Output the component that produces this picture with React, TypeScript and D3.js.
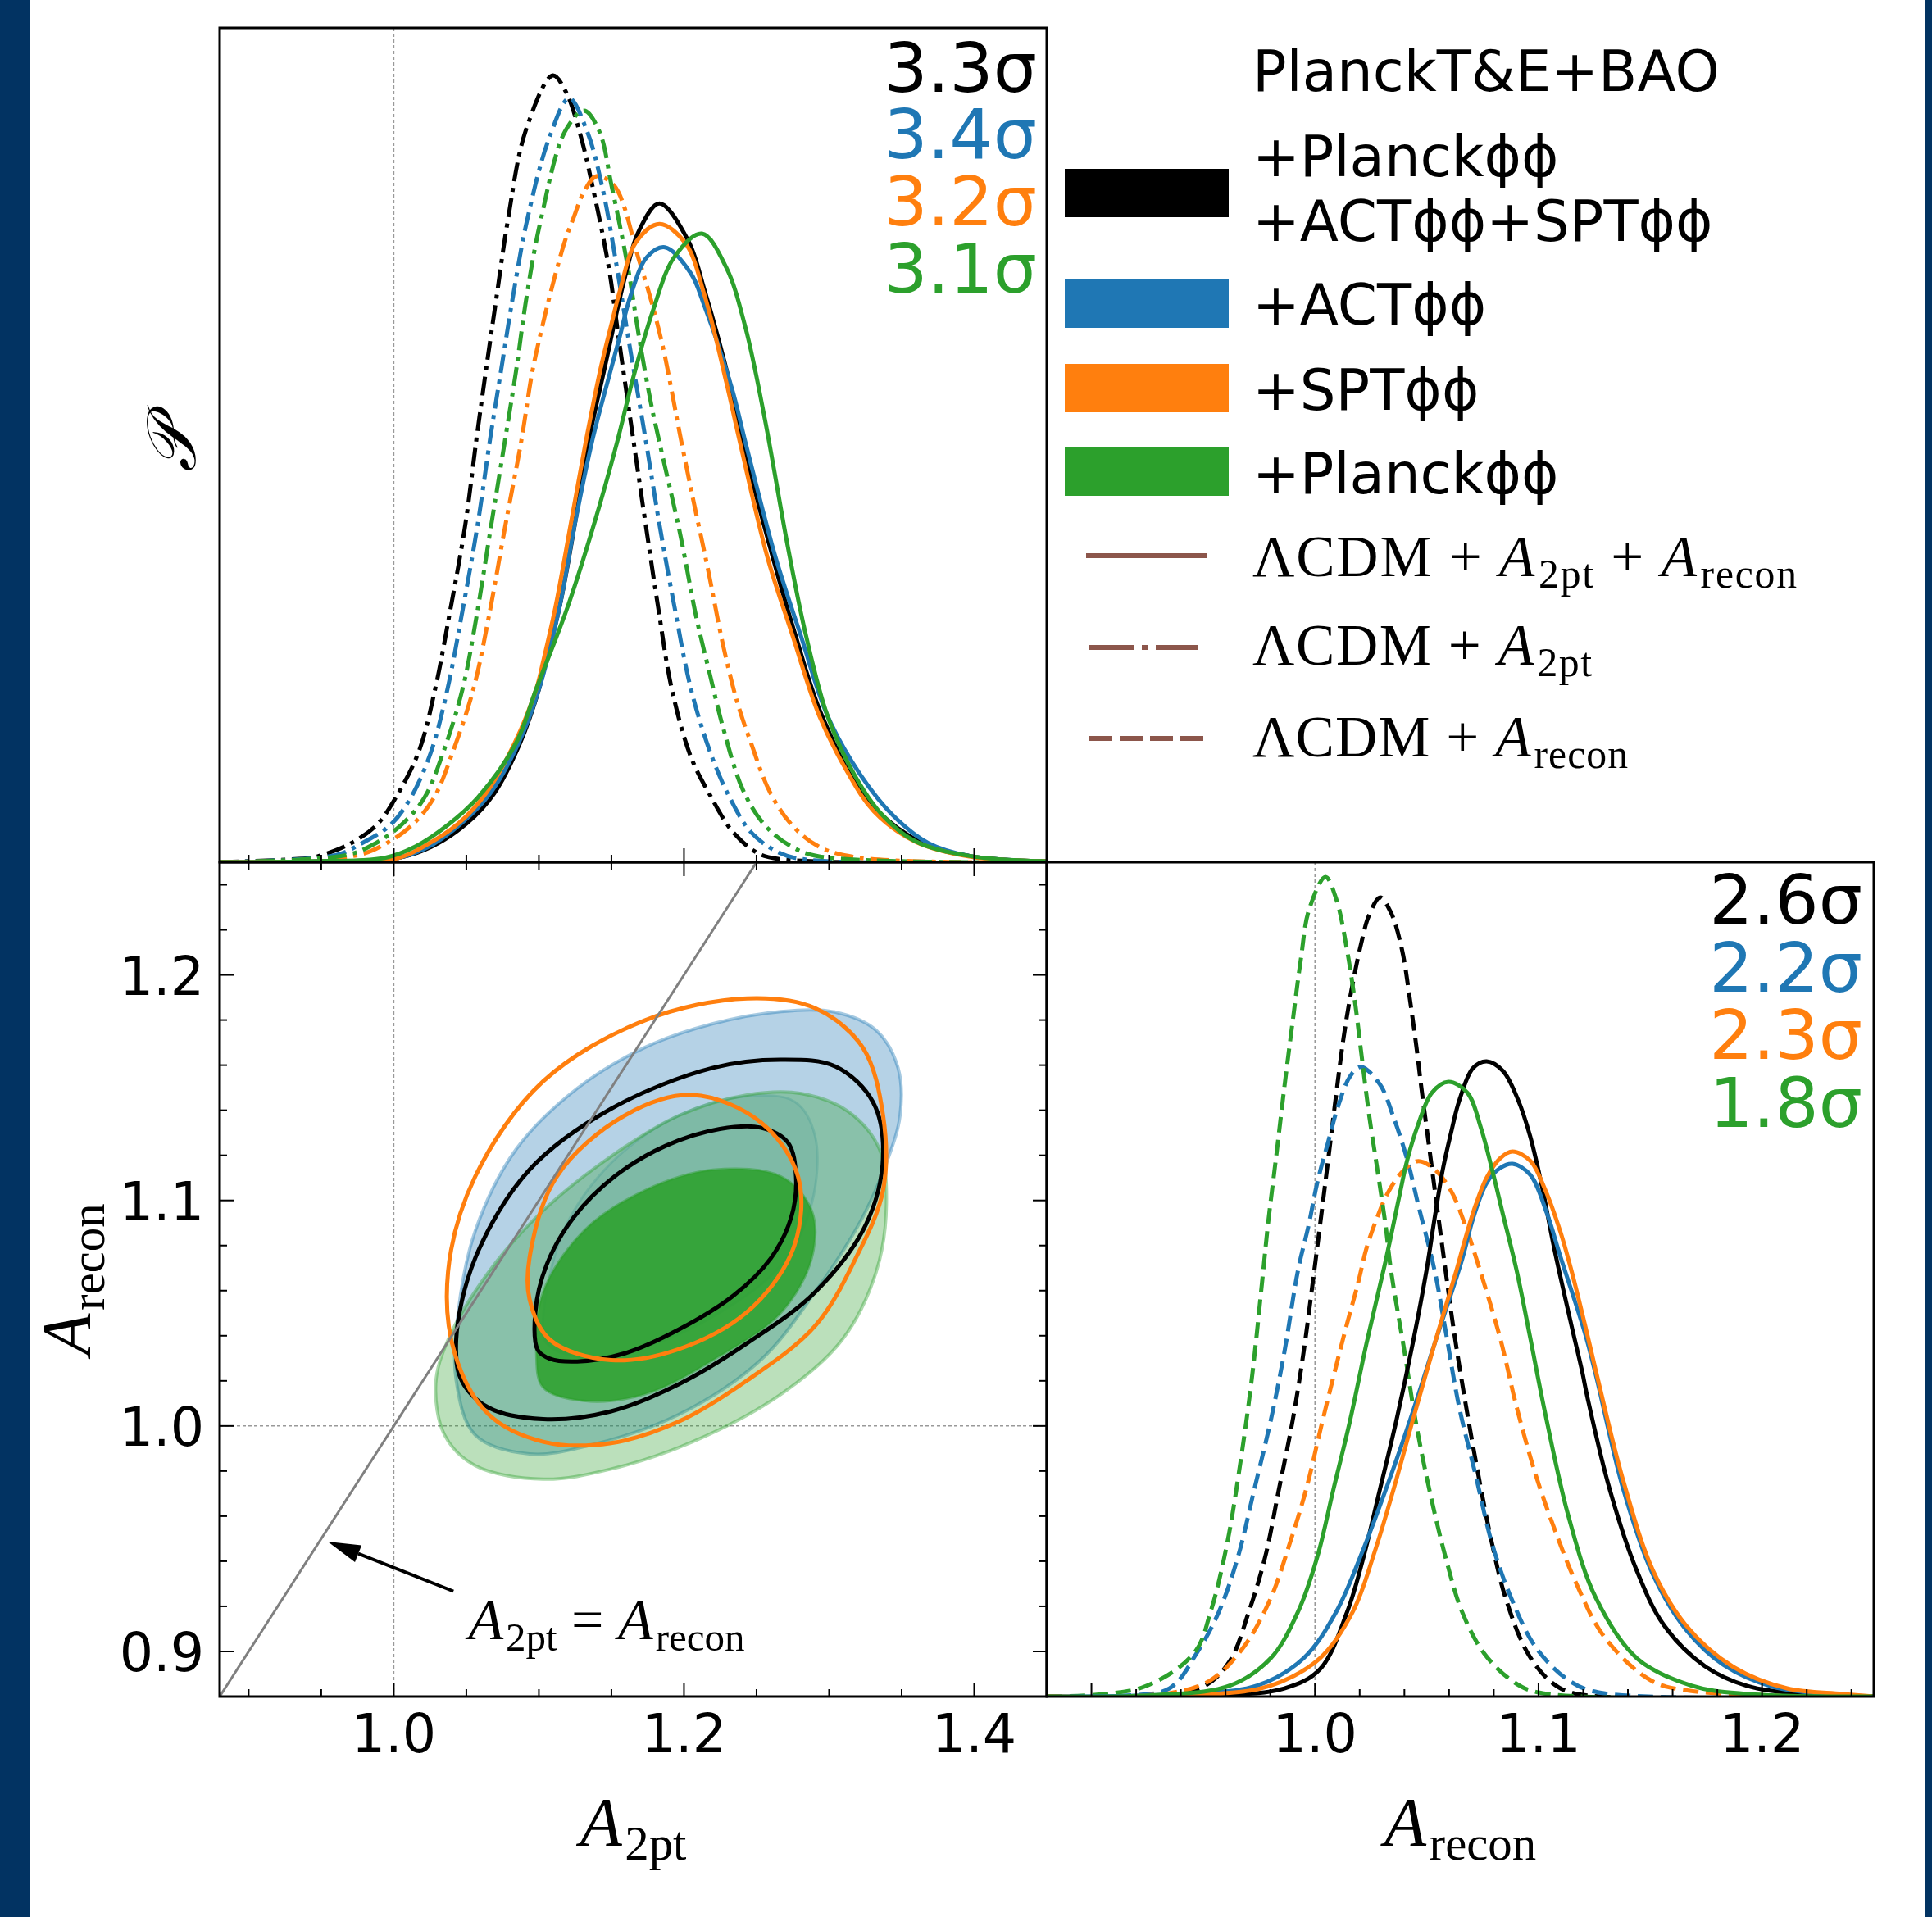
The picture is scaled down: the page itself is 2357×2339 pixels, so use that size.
import React from 'react';
import * as d3 from 'd3';

type Pt = [number, number];

// ---------------- data ----------------
const seriesColors = ['#000000', '#1f77b4', '#ff7f0e', '#2ca02c'];
const sigmaA2pt = ['3.3σ', '3.4σ', '3.2σ', '3.1σ'];
const sigmaArecon = ['2.6σ', '2.2σ', '2.3σ', '1.8σ'];
const legendTitle = 'PlanckT&E+BAO';
const legendLabels = [['+Planckϕϕ', '+ACTϕϕ+SPTϕϕ'], ['+ACTϕϕ'], ['+SPTϕϕ'], ['+Planckϕϕ']];

const a2ptMajor = [1.0, 1.2, 1.4];
const a2ptMajorLabels = ['1.0', '1.2', '1.4'];
const areconMajor = [0.9, 1.0, 1.1, 1.2];
const areconYLabels = ['0.9', '1.0', '1.1', '1.2'];
const areconXLabels = ['', '1.0', '1.1', '1.2'];

// P(A_2pt), LCDM + A2pt + Arecon (solid)
const a2ptBoth_black: Pt[] = [[0.88,0],[0.95,0.001],[1.0032,0.0052],[1.0258,0.0184],[1.0503,0.0465],[1.0691,0.0823],[1.087,0.1427],[1.1002,0.2083],[1.1049,0.241],[1.1143,0.3065],[1.1247,0.4047],[1.1341,0.5029],[1.1452,0.5915],[1.1595,0.7025],[1.1689,0.7566],[1.1831,0.7895],[1.2028,0.7453],[1.2141,0.686],[1.2329,0.565],[1.2405,0.5029],[1.2612,0.3654],[1.2765,0.2738],[1.2951,0.1755],[1.3252,0.0773],[1.362,0.0249],[1.3966,0.0075],[1.45,0.001]];
const a2ptBoth_blue: Pt[] = [[0.88,0],[0.95,0.001],[1.0032,0.0052],[1.0239,0.0184],[1.0465,0.0465],[1.0663,0.0823],[1.086,0.1427],[1.1002,0.2083],[1.1143,0.3065],[1.1247,0.4047],[1.1369,0.5062],[1.1482,0.5815],[1.1558,0.6306],[1.1633,0.6798],[1.1746,0.7256],[1.1868,0.737],[1.2047,0.7058],[1.2141,0.6667],[1.2329,0.5685],[1.2424,0.5029],[1.2631,0.3654],[1.2801,0.2738],[1.2989,0.1755],[1.3215,0.105],[1.3441,0.0559],[1.3684,0.0229],[1.3966,0.0075],[1.45,0.001]];
const a2ptBoth_orange: Pt[] = [[0.88,0],[0.95,0.001],[1.0032,0.0052],[1.0202,0.0184],[1.0446,0.0465],[1.0634,0.0823],[1.0832,0.1427],[1.0983,0.2083],[1.103,0.241],[1.1115,0.3065],[1.1219,0.4047],[1.1322,0.5029],[1.1425,0.5915],[1.1501,0.6456],[1.1558,0.6848],[1.167,0.7434],[1.1831,0.7649],[1.201,0.7418],[1.2141,0.6798],[1.2292,0.575],[1.2386,0.5029],[1.2575,0.3654],[1.2744,0.2738],[1.2932,0.1755],[1.312,0.11],[1.3309,0.0609],[1.3592,0.0249],[1.3966,0.0069],[1.45,0.001]];
const a2ptBoth_green: Pt[] = [[0.88,0],[0.94,0.001],[0.9938,0.0052],[1.0145,0.0184],[1.0371,0.0445],[1.0578,0.0773],[1.0842,0.1427],[1.0983,0.2083],[1.1199,0.3065],[1.1379,0.4047],[1.1538,0.5029],[1.1651,0.5815],[1.1784,0.6601],[1.1934,0.7256],[1.2124,0.7534],[1.2292,0.7125],[1.2424,0.6405],[1.2556,0.5322],[1.2715,0.3787],[1.2838,0.2738],[1.2989,0.1755],[1.3177,0.104],[1.3365,0.0569],[1.3592,0.0252],[1.3966,0.0075],[1.45,0.001]];

// P(A_2pt), LCDM + A2pt (dash-dot)
const a2ptOnly_black: Pt[] = [[0.88,0],[0.9429,0.0052],[0.9505,0.0085],[0.9693,0.0216],[0.9881,0.0445],[1.0013,0.0773],[1.0173,0.1329],[1.0286,0.2083],[1.038,0.2934],[1.0493,0.4047],[1.0569,0.5062],[1.0634,0.5881],[1.071,0.6798],[1.0785,0.7682],[1.0908,0.8762],[1.1096,0.943],[1.119,0.922],[1.1284,0.873],[1.1369,0.8107],[1.1482,0.7125],[1.1548,0.6306],[1.1651,0.5062],[1.1736,0.4047],[1.1821,0.3065],[1.1915,0.2083],[1.2047,0.1264],[1.2179,0.0806],[1.2329,0.038],[1.2499,0.0118],[1.265,0.0039],[1.45,0]];
const a2ptOnly_blue: Pt[] = [[0.88,0],[0.9599,0.0085],[0.9768,0.0216],[0.9976,0.0445],[1.0117,0.0773],[1.0258,0.1329],[1.0371,0.2083],[1.0465,0.2934],[1.0578,0.4047],[1.0663,0.5062],[1.0738,0.5881],[1.0823,0.6798],[1.0917,0.7682],[1.1068,0.8664],[1.1209,0.9155],[1.1332,0.8762],[1.1435,0.8107],[1.1538,0.7125],[1.1614,0.6306],[1.1736,0.5062],[1.1831,0.4047],[1.1934,0.3065],[1.2047,0.2083],[1.2179,0.1327],[1.2311,0.0788],[1.2462,0.036],[1.265,0.0118],[1.2838,0.0031],[1.45,0]];
const a2ptOnly_orange: Pt[] = [[0.88,0],[0.975,0.0085],[0.9938,0.0216],[1.0126,0.0445],[1.0277,0.0773],[1.0408,0.1329],[1.055,0.2083],[1.0654,0.2934],[1.077,0.4047],[1.088,0.5062],[1.0955,0.5881],[1.103,0.647],[1.1086,0.6863],[1.1181,0.7453],[1.1237,0.7714],[1.1312,0.804],[1.1397,0.8222],[1.152,0.8107],[1.1689,0.7223],[1.1784,0.6667],[1.1859,0.6142],[1.1915,0.5651],[1.1972,0.5128],[1.206,0.4374],[1.216,0.3556],[1.2273,0.2574],[1.2367,0.1918],[1.2462,0.1427],[1.2593,0.0838],[1.2744,0.0445],[1.2932,0.0184],[1.3215,0.0052],[1.45,0]];
const a2ptOnly_green: Pt[] = [[0.88,0],[0.9674,0.0085],[0.9863,0.0216],[1.0051,0.0445],[1.0211,0.0773],[1.0343,0.1329],[1.0475,0.2083],[1.0569,0.2934],[1.0672,0.4047],[1.0767,0.5062],[1.0842,0.5881],[1.0917,0.6798],[1.1011,0.7682],[1.1181,0.8762],[1.1312,0.9008],[1.1416,0.8762],[1.1501,0.8107],[1.1614,0.7125],[1.1689,0.6306],[1.1774,0.5488],[1.184,0.4962],[1.1972,0.3947],[1.2085,0.2934],[1.2179,0.2247],[1.2273,0.1591],[1.2405,0.0871],[1.2556,0.0445],[1.2744,0.0184],[1.2932,0.0069],[1.45,0]];

// P(A_recon), LCDM + A2pt + Arecon (solid)
const areconBoth_black: Pt[] = [[0.88,0],[0.95,0.001],[0.9863,0.0098],[1.0022,0.0327],[1.0144,0.1015],[1.0217,0.167],[1.0291,0.2488],[1.0364,0.3307],[1.0437,0.4226],[1.0499,0.5108],[1.0535,0.5728],[1.0572,0.6319],[1.0609,0.676],[1.0645,0.7139],[1.0707,0.7532],[1.0768,0.7613],[1.0841,0.7498],[1.0908,0.7155],[1.0963,0.6712],[1.1012,0.6156],[1.1073,0.5337],[1.1147,0.4453],[1.1195,0.3899],[1.122,0.3571],[1.1318,0.2488],[1.144,0.1506],[1.1562,0.0852],[1.1746,0.0361],[1.1929,0.0131],[1.2173,0.0032],[1.25,0]];
const areconBoth_blue: Pt[] = [[0.88,0],[0.94,0.003],[0.9741,0.0131],[0.9949,0.0459],[1.0095,0.1015],[1.0217,0.177],[1.034,0.2652],[1.0437,0.3407],[1.0535,0.4226],[1.0658,0.5239],[1.0707,0.5728],[1.0768,0.6156],[1.0829,0.6336],[1.0884,0.6385],[1.0963,0.6253],[1.1037,0.5796],[1.1098,0.5272],[1.1208,0.4353],[1.1257,0.3849],[1.1379,0.2488],[1.1513,0.1456],[1.166,0.0802],[1.1831,0.0373],[1.2051,0.0115],[1.2357,0.002],[1.25,0]];
const areconBoth_orange: Pt[] = [[0.88,0],[0.95,0.002],[0.9802,0.0131],[1.0022,0.0459],[1.0169,0.1015],[1.0267,0.1734],[1.0352,0.2488],[1.0437,0.3307],[1.0535,0.4226],[1.0633,0.5108],[1.067,0.5465],[1.0719,0.5892],[1.0768,0.6219],[1.0829,0.6453],[1.0884,0.6532],[1.0963,0.6421],[1.103,0.6074],[1.1098,0.5569],[1.1147,0.5108],[1.1208,0.4453],[1.1257,0.3899],[1.1379,0.2588],[1.1513,0.1506],[1.166,0.0852],[1.1868,0.0361],[1.2112,0.0098],[1.2357,0.0032],[1.25,0]];
const areconBoth_green: Pt[] = [[0.88,0],[0.93,0.002],[0.9619,0.0131],[0.9802,0.0459],[0.9924,0.1015],[1.001,0.167],[1.0083,0.2488],[1.0157,0.3307],[1.023,0.4226],[1.0315,0.5208],[1.0377,0.5992],[1.0413,0.6433],[1.0462,0.6859],[1.0523,0.7237],[1.0597,0.7367],[1.0682,0.7237],[1.0743,0.681],[1.0792,0.6319],[1.0841,0.5778],[1.0902,0.5108],[1.0963,0.43],[1.1024,0.3471],[1.1134,0.2161],[1.1257,0.1179],[1.144,0.0459],[1.1684,0.0131],[1.1929,0.0032],[1.25,0]];

// P(A_recon), LCDM + Arecon (dashed)
const areconOnly_black: Pt[] = [[0.88,0],[0.935,0.002],[0.9509,0.0131],[0.9619,0.0425],[0.9704,0.1015],[0.9777,0.167],[0.9839,0.2488],[0.99,0.3307],[0.9949,0.4126],[0.9997,0.5108],[1.0028,0.5765],[1.0059,0.6433],[1.0089,0.7089],[1.0126,0.7859],[1.0162,0.8448],[1.0205,0.9005],[1.0242,0.9363],[1.0291,0.9578],[1.034,0.9396],[1.0389,0.8955],[1.0425,0.835],[1.0458,0.77],[1.0474,0.7339],[1.0511,0.6583],[1.0535,0.6092],[1.0584,0.5108],[1.0621,0.439],[1.067,0.3571],[1.0731,0.2652],[1.0792,0.1834],[1.0853,0.1179],[1.0951,0.0524],[1.1061,0.0164],[1.1171,0.0032],[1.25,0]];
const areconOnly_blue: Pt[] = [[0.88,0],[0.915,0.001],[0.935,0.01],[0.9472,0.0524],[0.957,0.1015],[0.9655,0.167],[0.9729,0.2488],[0.9802,0.3307],[0.9863,0.4126],[0.9924,0.5108],[0.9973,0.5665],[1.001,0.6156],[1.0059,0.6647],[1.0107,0.7105],[1.0157,0.7433],[1.0205,0.7547],[1.0291,0.7335],[1.0352,0.694],[1.0413,0.6433],[1.0462,0.5892],[1.0535,0.5108],[1.0584,0.439],[1.0645,0.3471],[1.0719,0.2652],[1.0792,0.1834],[1.0878,0.1179],[1.0988,0.0589],[1.1134,0.0196],[1.1269,0.0049],[1.25,0]];
const areconOnly_orange: Pt[] = [[0.88,0],[0.935,0.004],[0.9533,0.0196],[0.968,0.0589],[0.9802,0.1179],[0.9887,0.1834],[0.9961,0.2488],[1.0034,0.3307],[1.0132,0.4353],[1.0193,0.4958],[1.023,0.5369],[1.0279,0.5746],[1.0327,0.6042],[1.0401,0.6319],[1.0462,0.6418],[1.0535,0.6319],[1.0609,0.6058],[1.067,0.5665],[1.0719,0.5272],[1.0829,0.429],[1.0902,0.3471],[1.0988,0.2652],[1.1073,0.1997],[1.1171,0.1343],[1.1293,0.072],[1.1501,0.0196],[1.1684,0.0066],[1.25,0]];
const areconOnly_green: Pt[] = [[0.88,0],[0.9226,0.0108],[0.946,0.0524],[0.9533,0.1015],[0.9607,0.1834],[0.9667,0.2816],[0.9717,0.3799],[0.9765,0.5008],[0.979,0.5665],[0.9827,0.6483],[0.9863,0.7302],[0.99,0.8087],[0.9937,0.8839],[0.9973,0.9427],[1.0047,0.9823],[1.0095,0.9559],[1.0144,0.8939],[1.0181,0.8284],[1.0205,0.776],[1.0242,0.6974],[1.0279,0.6319],[1.0315,0.5665],[1.034,0.5108],[1.0401,0.4126],[1.045,0.3307],[1.0511,0.2488],[1.0584,0.167],[1.0658,0.1015],[1.0755,0.0524],[1.0878,0.0196],[1.1,0.0049],[1.25,0]];

// 2D contours (A_2pt, A_recon)
const contBlueOuter: Pt[] = [[1.0444,1.0503],[1.0561,1.0864],[1.0842,1.1226],[1.1264,1.1497],[1.1732,1.1679],[1.22,1.1784],[1.2669,1.1838],[1.3044,1.1835],[1.3325,1.1754],[1.3475,1.1588],[1.3489,1.1377],[1.3395,1.1166],[1.3231,1.0925],[1.2903,1.0593],[1.2528,1.0292],[1.1966,1.0051],[1.1357,0.9915],[1.0935,0.9876],[1.0561,0.996],[1.043,1.0202]];
const contBlueInner: Pt[] = [[1.1029,1.0473],[1.117,1.0865],[1.1498,1.1166],[1.1966,1.1377],[1.2435,1.1462],[1.2763,1.1438],[1.2903,1.1287],[1.288,1.0985],[1.2669,1.0714],[1.2247,1.0503],[1.1732,1.0352],[1.1264,1.0307],[1.1053,1.0367]];
const contGreenOuter: Pt[] = [[1.0289,1.0187],[1.0374,1.0382],[1.0655,1.0684],[1.1029,1.0955],[1.1498,1.1196],[1.1966,1.1377],[1.2435,1.1468],[1.2809,1.1474],[1.3137,1.1392],[1.3348,1.1226],[1.3395,1.0985],[1.3325,1.0684],[1.309,1.0382],[1.2669,1.0141],[1.206,0.993],[1.1498,0.9809],[1.1029,0.9764],[1.0561,0.9824],[1.035,0.996]];
const contGreenInner: Pt[] = [[1.0982,1.0322],[1.1029,1.0593],[1.131,1.0865],[1.1732,1.1045],[1.22,1.1136],[1.2669,1.1106],[1.288,1.0955],[1.288,1.0744],[1.2669,1.0503],[1.22,1.0292],[1.1732,1.0141],[1.131,1.0111],[1.1029,1.0171]];
const contBlackOuter: Pt[] = [[1.043,1.0382],[1.0561,1.0744],[1.0935,1.1136],[1.1498,1.1407],[1.22,1.1588],[1.2669,1.1624],[1.3044,1.1594],[1.3302,1.1437],[1.3372,1.1196],[1.3255,1.0895],[1.2903,1.0593],[1.2435,1.0367],[1.1966,1.0186],[1.1498,1.0065],[1.1029,1.003],[1.0654,1.0081],[1.0467,1.0202]];
const contBlackInner: Pt[] = [[1.0992,1.0337],[1.0975,1.0503],[1.1053,1.0714],[1.124,1.0925],[1.1521,1.1106],[1.1873,1.1242],[1.2247,1.1317],[1.2528,1.1323],[1.2716,1.1257],[1.2772,1.1106],[1.2739,1.0925],[1.2599,1.0744],[1.2341,1.0578],[1.1966,1.0428],[1.1592,1.0322],[1.1264,1.0286],[1.1076,1.0298]];
const contOrangeOuter: Pt[] = [[1.0374,1.0684],[1.0561,1.1106],[1.1029,1.1528],[1.1732,1.1799],[1.2435,1.1896],[1.2903,1.1853],[1.3231,1.1679],[1.3372,1.1377],[1.3372,1.1045],[1.3184,1.0744],[1.2903,1.0443],[1.2435,1.0202],[1.1966,1.002],[1.1498,0.9924],[1.1029,0.993],[1.0654,1.0051],[1.042,1.0322]];
const contOrangeInner: Pt[] = [[1.0935,1.0744],[1.1123,1.1106],[1.1592,1.1377],[1.206,1.1468],[1.2528,1.1347],[1.2786,1.1106],[1.2763,1.0805],[1.2482,1.0533],[1.2013,1.0352],[1.1498,1.0292],[1.1076,1.0382],[1.0935,1.0563]];

// annotation
const arrowTail: Pt = [1.0411, 0.9267];
const arrowHead: Pt = [0.9545, 0.9487];
const annotPos: Pt = [1.0514, 0.9056];

// ---------------- layout ----------------
const W = 2357, H = 2339;
const TL = { x0: 268, x1: 1277, y0: 34, y1: 1052 };
const BL = { x0: 268, x1: 1277, y0: 1052, y1: 2070 };
const BR = { x0: 1277, x1: 2286, y0: 1052, y1: 2070 };
const NAVY = '#023362';
const SANS = 'DejaVu Sans, Verdana, sans-serif';
const SERIF = 'Liberation Serif, Times New Roman, serif';
const LW = 5;
const DASHDOT = '23 8 5 8';
const DASHED = '19 9';
const MAJ = 17, MIN = 9;

export default function App() {
  const xA = d3.scaleLinear().domain([0.88, 1.45]).range([TL.x0, TL.x1]);
  const yP1 = d3.scaleLinear().domain([0, 1]).range([TL.y1, TL.y0]);
  const yR = d3.scaleLinear().domain([0.88, 1.25]).range([BL.y1, BL.y0]);
  const xR = d3.scaleLinear().domain([0.88, 1.25]).range([BR.x0, BR.x1]);
  const yP2 = d3.scaleLinear().domain([0, 1]).range([BR.y1, BR.y0]);

  const smooth = d3.curveCatmullRom.alpha(0.5);
  const lineTL = d3.line<Pt>().x(d => xA(d[0])).y(d => Math.min(yP1(d[1]), TL.y1)).curve(smooth);
  const lineBR = d3.line<Pt>().x(d => xR(d[0])).y(d => Math.min(yP2(d[1]), BR.y1)).curve(smooth);
  const cont = d3.line<Pt>().x(d => xA(d[0])).y(d => yR(d[1])).curve(d3.curveCatmullRomClosed.alpha(0.5));

  const a2ptMinor = d3.range(18, 30).map(i => +(i * 0.05).toFixed(2)).filter(v => !a2ptMajor.some(m => Math.abs(m - v) < 1e-6));
  const areconMinor = d3.range(44, 63).map(i => +(i * 0.02).toFixed(2)).filter(v => !areconMajor.some(m => Math.abs(m - v) < 1e-6));

  const tlBoth = [a2ptBoth_black, a2ptBoth_blue, a2ptBoth_orange, a2ptBoth_green];
  const tlOnly = [a2ptOnly_black, a2ptOnly_blue, a2ptOnly_orange, a2ptOnly_green];
  const brBoth = [areconBoth_black, areconBoth_blue, areconBoth_orange, areconBoth_green];
  const brOnly = [areconOnly_black, areconOnly_blue, areconOnly_orange, areconOnly_green];

  const xTicks = (sc: any, vals: number[], y: number, dir: number, len: number, key: string) =>
    vals.map((v, i) => <line key={key + i} x1={sc(v)} x2={sc(v)} y1={y} y2={y + dir * len} stroke="#000" strokeWidth={2} />);
  const yTicks = (sc: any, vals: number[], x: number, dir: number, len: number, key: string) =>
    vals.map((v, i) => <line key={key + i} y1={sc(v)} y2={sc(v)} x1={x} x2={x + dir * len} stroke="#000" strokeWidth={2} />);

  // arrow geometry
  const hx = xA(arrowHead[0]), hy = yR(arrowHead[1]);
  const tx = xA(arrowTail[0]), ty = yR(arrowTail[1]);
  const ang = Math.atan2(hy - ty, hx - tx);
  const aL = 40, aW = 11;
  const bx = hx - aL * Math.cos(ang), by = hy - aL * Math.sin(ang);
  const arrowPoly = [
    [hx, hy],
    [bx + aW * Math.sin(ang), by - aW * Math.cos(ang)],
    [bx - aW * Math.sin(ang), by + aW * Math.cos(ang)],
  ].map(p => p.join(',')).join(' ');

  const legendRectY = [206, 341, 444, 546];
  const legendTextY = [[215, 294], [396], [500], [602]];
  const sigTopY = [112, 193, 275, 357];
  const sigBotY = [1127, 1210, 1292, 1375];

  const sub = (t: string, fs: number) => (
    <tspan fontSize={fs * 0.7} dx={fs * 0.04} dy={fs * 0.2}>{t}</tspan>
  );

  return (
    <svg width={W} height={H} style={{ position: 'absolute', left: 0, top: 0, background: '#fff' }} xmlns="http://www.w3.org/2000/svg">
      <rect x={0} y={0} width={W} height={H} fill="#fff" />
      <rect x={0} y={0} width={37} height={H} fill={NAVY} />
      <rect x={2348} y={0} width={W - 2348} height={H} fill={NAVY} />
      <defs>
        <clipPath id="cTL"><rect x={TL.x0} y={TL.y0} width={TL.x1 - TL.x0} height={TL.y1 - TL.y0} /></clipPath>
        <clipPath id="cBL"><rect x={BL.x0} y={BL.y0} width={BL.x1 - BL.x0} height={BL.y1 - BL.y0} /></clipPath>
        <clipPath id="cBR"><rect x={BR.x0} y={BR.y0} width={BR.x1 - BR.x0} height={BR.y1 - BR.y0} /></clipPath>
      </defs>

      {/* ---- Top-left: P(A2pt) ---- */}
      <g clipPath="url(#cTL)">
        <line x1={xA(1.0)} x2={xA(1.0)} y1={TL.y0} y2={TL.y1} stroke="#999" strokeWidth={1.5} strokeDasharray="4 3" />
        {tlOnly.map((d, i) => (
          <path key={'tlo' + i} d={lineTL(d) || ''} fill="none" stroke={seriesColors[i]} strokeWidth={LW} strokeDasharray={DASHDOT} />
        ))}
        {tlBoth.map((d, i) => (
          <path key={'tlb' + i} d={lineTL(d) || ''} fill="none" stroke={seriesColors[i]} strokeWidth={LW} />
        ))}
      </g>
      {xTicks(xA, a2ptMajor, TL.y1, -1, MAJ, 'tlM')}
      {xTicks(xA, a2ptMinor, TL.y1, -1, MIN, 'tlm')}
      <rect x={TL.x0} y={TL.y0} width={TL.x1 - TL.x0} height={TL.y1 - TL.y0} fill="none" stroke="#000" strokeWidth={3} />
      {sigmaA2pt.map((s, i) => (
        <text key={'st' + i} x={1265} y={sigTopY[i]} textAnchor="end" fontFamily={SANS} fontSize={84} fill={seriesColors[i]}>{s}</text>
      ))}
      <text transform={`translate(238,545) rotate(-90)`} textAnchor="middle" fontFamily={SERIF} fontStyle="italic" fontSize={84}>𝒫</text>

      {/* ---- Bottom-left: 2D ---- */}
      <g clipPath="url(#cBL)">
        <line x1={xA(1.0)} x2={xA(1.0)} y1={BL.y0} y2={BL.y1} stroke="#999" strokeWidth={1.5} strokeDasharray="4 3" />
        <line x1={BL.x0} x2={BL.x1} y1={yR(1.0)} y2={yR(1.0)} stroke="#999" strokeWidth={1.5} strokeDasharray="4 3" />
        <path d={cont(contBlueOuter) || ''} fill="#1f77b4" fillOpacity={0.33} stroke="#1f77b4" strokeOpacity={0.4} strokeWidth={4} />
        <path d={cont(contBlueInner) || ''} fill="#1f77b4" fillOpacity={0.1} stroke="#1f77b4" strokeOpacity={0.2} strokeWidth={3} />
        <path d={cont(contGreenOuter) || ''} fill="#2ca02c" fillOpacity={0.32} stroke="#2ca02c" strokeOpacity={0.4} strokeWidth={4} />
        <path d={cont(contGreenInner) || ''} fill="#2ca02c" fillOpacity={0.88} stroke="#2ca02c" strokeOpacity={0.5} strokeWidth={3} />
        <path d={cont(contBlackOuter) || ''} fill="none" stroke="#000" strokeWidth={LW} />
        <path d={cont(contBlackInner) || ''} fill="none" stroke="#000" strokeWidth={LW} />
        <path d={cont(contOrangeOuter) || ''} fill="none" stroke="#ff7f0e" strokeWidth={LW} />
        <path d={cont(contOrangeInner) || ''} fill="none" stroke="#ff7f0e" strokeWidth={LW} />
        <line x1={xA(0.88)} y1={yR(0.88)} x2={xA(1.25)} y2={yR(1.25)} stroke="#808080" strokeWidth={3} />
        <line x1={tx} y1={ty} x2={bx} y2={by} stroke="#000" strokeWidth={4} />
        <polygon points={arrowPoly} fill="#000" />
      </g>
      <text x={xA(annotPos[0])} y={yR(annotPos[1])} fontFamily={SERIF} fontSize={70} style={{ whiteSpace: 'pre' }}>
        <tspan fontStyle="italic">A</tspan>{sub('2pt', 70)}<tspan dy={-14}>{' = '}</tspan><tspan fontStyle="italic">A</tspan>{sub('recon', 70)}
      </text>
      {xTicks(xA, a2ptMajor, BL.y1, -1, MAJ, 'blbM')}
      {xTicks(xA, a2ptMinor, BL.y1, -1, MIN, 'blbm')}
      {xTicks(xA, a2ptMajor, BL.y0, 1, MAJ, 'bltM')}
      {xTicks(xA, a2ptMinor, BL.y0, 1, MIN, 'bltm')}
      {yTicks(yR, areconMajor, BL.x0, 1, MAJ, 'bllM')}
      {yTicks(yR, areconMinor, BL.x0, 1, MIN, 'bllm')}
      {yTicks(yR, areconMajor, BL.x1, -1, MAJ, 'blrM')}
      {yTicks(yR, areconMinor, BL.x1, -1, MIN, 'blrm')}
      <rect x={BL.x0} y={BL.y0} width={BL.x1 - BL.x0} height={BL.y1 - BL.y0} fill="none" stroke="#000" strokeWidth={3} />
      {a2ptMajor.map((v, i) => (
        <text key={'xl' + i} x={xA(v)} y={2138} textAnchor="middle" fontFamily={SANS} fontSize={65}>{a2ptMajorLabels[i]}</text>
      ))}
      {areconMajor.map((v, i) => (
        <text key={'yl' + i} x={249} y={yR(v) + 24} textAnchor="end" fontFamily={SANS} fontSize={65}>{areconYLabels[i]}</text>
      ))}
      <text x={(BL.x0 + BL.x1) / 2} y={2252} textAnchor="middle" fontFamily={SERIF} fontSize={84} style={{ whiteSpace: 'pre' }}>
        <tspan fontStyle="italic">A</tspan>{sub('2pt', 84)}
      </text>
      <text transform={`translate(110,${(BL.y0 + BL.y1) / 2}) rotate(-90)`} textAnchor="middle" fontFamily={SERIF} fontSize={84} style={{ whiteSpace: 'pre' }}>
        <tspan fontStyle="italic">A</tspan>{sub('recon', 84)}
      </text>

      {/* ---- Bottom-right: P(Arecon) ---- */}
      <g clipPath="url(#cBR)">
        <line x1={xR(1.0)} x2={xR(1.0)} y1={BR.y0} y2={BR.y1} stroke="#999" strokeWidth={1.5} strokeDasharray="4 3" />
        {brOnly.map((d, i) => (
          <path key={'bro' + i} d={lineBR(d) || ''} fill="none" stroke={seriesColors[i]} strokeWidth={LW} strokeDasharray={DASHED} />
        ))}
        {brBoth.map((d, i) => (
          <path key={'brb' + i} d={lineBR(d) || ''} fill="none" stroke={seriesColors[i]} strokeWidth={LW} />
        ))}
      </g>
      {xTicks(xR, areconMajor, BR.y1, -1, MAJ, 'brbM')}
      {xTicks(xR, areconMinor, BR.y1, -1, MIN, 'brbm')}
      <rect x={BR.x0} y={BR.y0} width={BR.x1 - BR.x0} height={BR.y1 - BR.y0} fill="none" stroke="#000" strokeWidth={3} />
      {areconMajor.map((v, i) => (
        <text key={'xrl' + i} x={xR(v)} y={2138} textAnchor="middle" fontFamily={SANS} fontSize={65}>{areconXLabels[i]}</text>
      ))}
      {sigmaArecon.map((s, i) => (
        <text key={'sb' + i} x={2272} y={sigBotY[i]} textAnchor="end" fontFamily={SANS} fontSize={84} fill={seriesColors[i]}>{s}</text>
      ))}
      <text x={(BR.x0 + BR.x1) / 2} y={2252} textAnchor="middle" fontFamily={SERIF} fontSize={84} style={{ whiteSpace: 'pre' }}>
        <tspan fontStyle="italic">A</tspan>{sub('recon', 84)}
      </text>

      {/* ---- Legend ---- */}
      <text x={1528} y={111} fontFamily={SANS} fontSize={69}>{legendTitle}</text>
      {legendLabels.map((lines, i) => (
        <g key={'lg' + i}>
          <rect x={1299} y={legendRectY[i]} width={200} height={59} fill={seriesColors[i]} />
          {lines.map((t, j) => (
            <text key={j} x={1528} y={legendTextY[i][j]} fontFamily={SANS} fontSize={69}>{t}</text>
          ))}
        </g>
      ))}
      <line x1={1325} x2={1473} y1={678} y2={678} stroke="#8c564b" strokeWidth={6} />
      <line x1={1329} x2={1462} y1={790} y2={790} stroke="#8c564b" strokeWidth={6} strokeDasharray="54 10 7 10" />
      <line x1={1329} x2={1468} y1={901} y2={901} stroke="#8c564b" strokeWidth={6} strokeDasharray="28 9" />
      <text x={1528} y={703} fontFamily={SERIF} fontSize={71} textLength={664} lengthAdjust="spacing" style={{ whiteSpace: 'pre' }}>
        <tspan>{'ΛCDM + '}</tspan><tspan fontStyle="italic">A</tspan>{sub('2pt', 71)}<tspan dy={-14.2}>{' + '}</tspan><tspan fontStyle="italic">A</tspan>{sub('recon', 71)}
      </text>
      <text x={1528} y={811} fontFamily={SERIF} fontSize={71} textLength={414} lengthAdjust="spacing" style={{ whiteSpace: 'pre' }}>
        <tspan>{'ΛCDM + '}</tspan><tspan fontStyle="italic">A</tspan>{sub('2pt', 71)}
      </text>
      <text x={1528} y={923} fontFamily={SERIF} fontSize={71} textLength={458} lengthAdjust="spacing" style={{ whiteSpace: 'pre' }}>
        <tspan>{'ΛCDM + '}</tspan><tspan fontStyle="italic">A</tspan>{sub('recon', 71)}
      </text>
    </svg>
  );
}
